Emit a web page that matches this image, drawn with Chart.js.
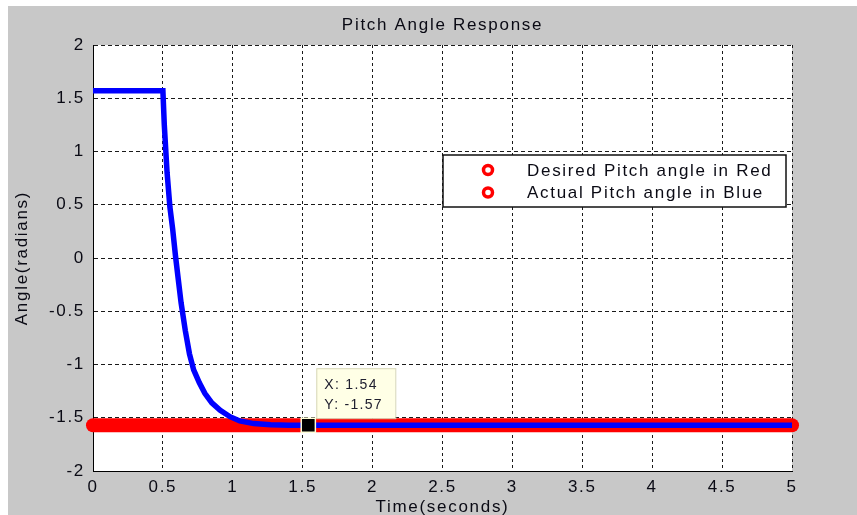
<!DOCTYPE html>
<html>
<head>
<meta charset="utf-8">
<title>Pitch Angle Response</title>
<script src="https://cdn.jsdelivr.net/npm/chart.js@4.4.1/dist/chart.umd.min.js"></script>
<style>
  html, body { margin: 0; padding: 0; background: #fff; }
  #wrap { position: absolute; left: 8px; top: 6px; width: 849px; height: 509px; background: #c8c8c8; }
</style>
</head>
<body>
<div id="wrap"><canvas id="pitch" width="849" height="509"></canvas></div>
<script>
const chartTitle = 'Pitch Angle Response';
const xTitle = 'Time(seconds)';
const yTitle = 'Angle(radians)';

const xTicks = [0, 0.5, 1, 1.5, 2, 2.5, 3, 3.5, 4, 4.5, 5];
const yTicks = [-2, -1.5, -1, -0.5, 0, 0.5, 1, 1.5, 2];

// reference (desired) pitch
const desiredLabel = 'Desired Pitch angle in Red';
const desiredTime = [0, 5];
const desiredAngle = [-1.57, -1.57];

// simulated (actual) pitch
const actualLabel = 'Actual Pitch angle in Blue';
const actualTime = [0, 0.5, 0.51, 0.53, 0.55, 0.57, 0.59, 0.61, 0.63, 0.66, 0.69, 0.72, 0.76, 0.8, 0.85, 0.91, 0.98, 1.05, 1.15, 1.27, 1.4, 5];
const actualAngle = [1.57, 1.57, 1.25, 0.8, 0.48, 0.27, 0.02, -0.2, -0.42, -0.68, -0.9, -1.05, -1.17, -1.27, -1.36, -1.43, -1.49, -1.53, -1.555, -1.565, -1.57, -1.57];

// data cursor
const tipTime = 1.54;
const tipAngle = -1.57;

const toPoints = (xs, ys) => xs.map((x, i) => ({ x: x, y: ys[i] }));

const FONT = '"Liberation Sans", Arial, sans-serif';
Chart.defaults.font.family = FONT;
Chart.defaults.font.size = 17;
Chart.defaults.color = '#0a0a14';

const frame = {
  id: 'frame',
  beforeDraw(chart) {
    const { ctx, chartArea: a } = chart;
    ctx.letterSpacing = '1.7px';
    ctx.save();
    ctx.fillStyle = '#fff';
    ctx.fillRect(a.left, a.top, a.right - a.left, a.bottom - a.top);
    ctx.restore();
  }
};

const legendBox = {
  id: 'legendBox',
  afterDraw(chart) {
    const { ctx, chartArea: a } = chart;
    const left = a.left + 350, top = a.top + 110, w = 343, h = 52;
    ctx.save();
    ctx.fillStyle = '#fff';
    ctx.fillRect(left, top, w, h);
    ctx.strokeStyle = '#111';
    ctx.lineWidth = 1.5;
    ctx.strokeRect(left, top, w, h);
    ctx.font = '17px ' + FONT;
    ctx.textBaseline = 'middle';
    chart.data.datasets.filter(d => d.inLegend).forEach((d, i) => {
      const y = top + 15 + i * 22.5;
      ctx.beginPath();
      ctx.arc(left + 45, y, 4.5, 0, Math.PI * 2);
      ctx.fillStyle = '#fff';
      ctx.fill();
      ctx.lineWidth = 3.5;
      ctx.strokeStyle = '#ff0000';
      ctx.stroke();
      ctx.fillStyle = '#0a0a14';
      ctx.fillText(d.label, left + 84, y + 1);
    });
    ctx.restore();
  }
};

const dataTip = {
  id: 'dataTip',
  afterDraw(chart) {
    const { ctx } = chart;
    const px = chart.scales.x.getPixelForValue(tipTime);
    const py = chart.scales.y.getPixelForValue(tipAngle);
    const left = px + 8, top = py - 57;
    ctx.save();
    ctx.fillStyle = '#ffffe6';
    ctx.fillRect(left, top, 79, 50);
    ctx.strokeStyle = '#d6d6b8';
    ctx.lineWidth = 1;
    ctx.strokeRect(left + 0.5, top + 0.5, 79, 50);
    ctx.font = '14px ' + FONT;
    ctx.letterSpacing = '1.3px';
    ctx.textBaseline = 'middle';
    ctx.fillStyle = '#202030';
    ctx.fillText('X: ' + tipTime, left + 8, top + 17);
    ctx.fillText('Y: ' + tipAngle, left + 8, top + 37);
    ctx.restore();
  }
};

new Chart(document.getElementById('pitch'), {
  type: 'line',
  data: {
    datasets: [
      {
        label: desiredLabel,
        inLegend: true,
        data: toPoints(desiredTime, desiredAngle),
        order: 2,
        borderColor: '#ff0000',
        borderWidth: 14,
        borderCapStyle: 'round',
        pointRadius: 0,
        clip: false
      },
      {
        label: actualLabel,
        inLegend: true,
        data: toPoints(actualTime, actualAngle),
        order: 1,
        borderColor: '#0000ff',
        borderWidth: 5.5,
        pointRadius: 0,
        tension: 0
      },
      {
        label: 'cursor',
        data: [{ x: tipTime, y: tipAngle }],
        order: 0,
        showLine: false,
        pointStyle: 'rect',
        pointRadius: 10,
        backgroundColor: '#000',
        borderColor: '#ffffd8',
        borderWidth: 1.5,
        clip: false
      }
    ]
  },
  options: {
    responsive: false,
    animation: false,
    layout: { padding: { left: 0, right: 65, top: 0, bottom: 0 } },
    plugins: {
      legend: { display: false },
      tooltip: { enabled: false },
      title: {
        display: true,
        text: chartTitle,
        fullSize: false,
        font: { size: 17, weight: 'normal', lineHeight: 1.2 },
        padding: { top: 9.6, bottom: 9 }
      }
    },
    scales: {
      x: {
        type: 'linear',
        min: 0,
        max: 5,
        afterBuildTicks: s => { s.ticks = xTicks.map(v => ({ value: v })); },
        afterFit: s => { s.height = 44; },
        ticks: { padding: 6, autoSkip: false, maxRotation: 0, callback: v => String(v) },
        grid: { color: '#1a1a1a', lineWidth: 1, drawTicks: false },
        border: { display: true, color: '#000', width: 1, dash: [3, 3] },
        title: { display: true, text: xTitle, font: { size: 17, lineHeight: 0.9 }, padding: { top: 0, bottom: 0 } }
      },
      y: {
        type: 'linear',
        min: -2,
        max: 2,
        afterBuildTicks: s => { s.ticks = yTicks.map(v => ({ value: v })); },
        afterFit: s => { s.width = 85; },
        ticks: { padding: 8, autoSkip: false, callback: v => String(v) },
        grid: { color: '#1a1a1a', lineWidth: 1, drawTicks: false },
        border: { display: true, color: '#000', width: 1, dash: [4, 3] },
        title: { display: true, text: yTitle, font: { size: 17 }, padding: { top: 4, bottom: 0 } }
      }
    }
  },
  plugins: [frame, legendBox, dataTip]
});
</script>
</body>
</html>
